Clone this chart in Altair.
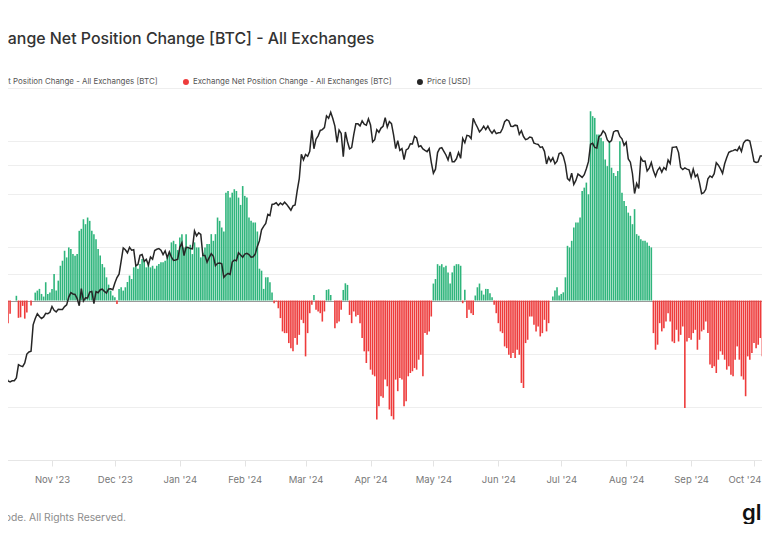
import altair as alt
import pandas as pd

START = "2023-10-07"

# Daily exchange net position change [BTC], Oct 7 2023 .. Oct 8 2024
net_change = [
    -19500, -14000, -12500, -14000, -8500, -5000, 0, 0, 1800, -6500,
    -6300, -2000, -6800, -4500, 0, -1900, 0, 3000, 3750, 4400,
    2500, 1500, 6900, 2500, 3000, 4400, 10000, 3750, 7500, 13100,
    15000, 18750, 16250, 20000, 19400, 17500, 16900, 17500, 26250, 27000,
    30600, 28750, 31250, 30000, 26250, 25000, 23100, 19400, 17000, 13750,
    12500, 8750, 6000, 3750, 1900, 1250, -1250, 4400, 5000, 3750,
    5000, 7000, 9400, 8100, 12500, 13100, 12000, 13750, 15600, 15000,
    12500, 13750, 12500, 13100, 12000, 13100, 13750, 14400, 14400, 15000,
    16250, 18100, 21900, 22500, 21250, 19000, 23750, 25000, 20000, 25000,
    20000, 21000, 17500, 21900, 20000, 20000, 16250, 18000, 20000, 21250,
    21250, 25000, 22500, 25000, 31250, 30000, 27500, 26000, 40600, 41250,
    38750, 40600, 41900, 41250, 38750, 36000, 43100, 39400, 38750, 31250,
    30000, 29400, 29400, 26000, 12000, 11250, 4400, 8750, 8750, 6900,
    3000, -1000, -300, -2900, -6600, -11600, -12250, -12250, -16000, -17900,
    -19100, -14100, -16600, -12900, -7250, -8500, -21000, -12250, -4750, -1600,
    2100, -3500, -4100, -4750, -7900, -4100, 4000, 4250, 2100, 0,
    -10400, -8500, -7900, -3500, 4000, 6500, 5900, -5400, -8500, -4100,
    -6000, -5400, -8500, -14100, -19100, -23500, -19100, -26000, -27900, -28500,
    -44750, -39750, -36000, -36600, -29750, -32250, -41000, -43500, -44750, -29750,
    -34100, -29100, -29750, -39750, -37900, -28500, -27250, -26600, -25400, -26000,
    -22250, -20400, -28500, -12250, -12900, -11600, -6000, 6400, 8100, 13700,
    13100, 13700, 12500, 13100, 10600, 6400, 10600, 13100, 13700, 13700,
    13100, -1000, 4100, -6600, -3500, -4750, -5400, 1900, 5000, 6400,
    3750, 2250, 4400, 4400, 2750, 1250, -1600, -4750, -8500, -11600,
    -12250, -17250, -17900, -20400, -21600, -19750, -21600, -18500, -20400, -31000,
    -32900, -16000, -14750, -6000, -6000, -9100, -11600, -9750, -13500, -12250,
    -7250, -11600, -8500, 0, 1500, 3750, 5000, 1900, 2500, 3100,
    8750, 20600, 20000, 22500, 27500, 29400, 29400, 31250, 41250, 42500,
    44400, 40000, 71250, 69400, 68750, 62500, 62500, 61250, 60000, 53100,
    50600, 60000, 50000, 48000, 46900, 48750, 60000, 40600, 37500, 35600,
    33100, 31900, 28750, 34400, 25000, 24400, 23100, 22500, 22500, 21900,
    20600, 20000, -12250, -18500, -16600, -8500, -11600, -10400, -7900, -4750,
    -7900, -15400, -16000, -11000, -15400, -12900, -9750, -40400, -15400, -14100,
    -14750, -12250, -11000, -18500, -14750, -11600, -11000, -7900, -12250, -24100,
    -25400, -24750, -27250, -22250, -19100, -20400, -22250, -26000, -24750, -27900,
    -28500, -22250, -17250, -22250, -28500, -29750, -36000, -21000, -22250, -19750,
    -16000, -17900, -16600, -14100, -21000, -22900, -25400, -32250,
]

# Daily BTC price [USD], same days
price = [
    27950, 27970, 27600, 27400, 26850, 26750, 26860, 26870, 27150, 28520,
    28400, 28330, 28720, 29680, 29920, 29990, 33090, 33900, 34500, 34150,
    33890, 34090, 34540, 34500, 34670,
    35440, 34940, 34730, 35080, 35050, 35040, 35420, 35650, 36700, 37310,
    37130, 37070, 36500, 35540, 37880, 36160, 36600, 36590, 37390, 37480,
    35810, 37450, 37300, 37720, 37800, 37480, 37250, 37830, 37860, 37720,
    38690, 39470, 39980, 41980, 44080, 43780, 43290, 44170, 43720, 43790,
    41240, 41450, 42890, 43020, 41930, 42240, 41360, 42620, 42270, 43650,
    43860, 43970, 43700, 43010, 43600, 42520, 43440, 42580, 42070, 42140, 42280,
    44180, 44940, 42850, 44180, 44160, 43970, 43930, 46970, 46110, 46630,
    46370, 42850, 42840, 41800, 42510, 43150, 42740, 41260, 41620, 41660,
    41550, 39510, 39850, 40080, 39930, 41820, 42120, 42030, 43300, 42940, 42580,
    43080, 43190, 43000, 42580, 42660, 43090, 44330, 45290, 47150, 47770,
    48290, 49960, 49740, 51830, 51930, 52160, 51660, 52120, 51780, 52280,
    51840, 51300, 50730, 51570, 51730, 54520, 57090, 62500, 61200,
    62440, 62030, 63170, 68330, 63800, 66110, 66930, 68300, 68500, 69020,
    72120, 71480, 73100, 71400, 69400, 65320, 68390, 67550, 61910, 67910,
    65490, 63780, 64060, 67250, 69990, 69990, 69460, 70780, 69900, 69650, 71330,
    69700, 65450, 65980, 68510, 67840, 68900, 69360, 71630, 69150, 70590,
    70060, 67200, 63820, 65740, 63420, 63810, 61280, 63510, 63840, 64990,
    64930, 66840, 66410, 64290, 64500, 63760, 63420, 63110, 63840, 60640,
    58250, 59120, 62890, 63890, 64030, 63160, 62330, 61190, 63050, 60790,
    60790, 61450, 62900, 61550, 66270, 65230, 67050, 66940, 66280, 71450,
    70140, 69120, 67930, 68520, 69390, 68500, 69390, 68300, 67600, 68360, 67490,
    67710, 67750, 68800, 70570, 71080, 70760, 69340, 69310, 69650, 69510,
    67320, 68240, 66760, 66010, 66190, 66640, 66490, 65150, 64960, 64830,
    64100, 64250, 63180, 60280, 61800, 60860, 61670, 60320, 60890, 62680,
    62850, 62030, 60200, 57060, 56660, 58230, 55850, 56700, 58050, 57720,
    57340, 57900, 59230, 60790, 64870, 65100, 64120, 63970, 66710, 67160,
    68190, 67550, 65930, 65370, 65780, 67910, 68250, 68250, 66780, 66190, 64620,
    65360, 61410, 60680, 58120, 53990, 56030, 55030, 61710, 60880, 60940,
    58710, 59350, 60610, 58740, 57560, 58870, 59480, 58480, 59490, 59010,
    61160, 60380, 64090, 64180, 64260, 62880, 59500, 59030, 59390, 59120, 58970,
    57330, 59130, 57490, 57970, 56160, 53950, 54140, 54840, 57020, 57650,
    57340, 58130, 60570, 60000, 59180, 58210, 60310, 61760, 62950, 63200,
    63350, 63580, 63340, 64260, 63140, 65180, 65790, 65890, 65640, 63330,
    60840, 60630, 60750, 62090, 62060, 62820, 62220, 62130,
]

month_ticks = [
    "2023-10-01", "2023-11-01", "2023-12-01", "2024-01-01", "2024-02-01",
    "2024-03-01", "2024-04-01", "2024-05-01", "2024-06-01", "2024-07-01",
    "2024-08-01", "2024-09-01", "2024-10-01",
]
bar_grid = [-60000, -40000, -20000, 0, 20000, 40000, 60000, 80000]
price_grid = [20000, 40000, 60000, 80000]

TITLE = "Exchange Net Position Change [BTC] - All Exchanges"
SERIES_LABEL = "Exchange Net Position Change - All Exchanges [BTC]"
PRICE_LABEL = "Price [USD]"
POS_KEY = "inflow"
NEG_KEY = "outflow"
FOOTER = "\u00a9 2024 Glassnode. All Rights Reserved."
LOGO = "glassnode"

GREEN = "#2fb57c"
RED = "#ee3b3b"
BLACK = "#262626"
FONT = "Inter"


def ms(s):
    return int(pd.Timestamp(s, tz="UTC").value // 10**6)


dates = pd.date_range(START, periods=len(net_change), freq="D")
df = pd.DataFrame({
    "date": dates.strftime("%Y-%m-%d"),
    "net": net_change,
    "price": price,
})
df["sign"] = [POS_KEY if v >= 0 else NEG_KEY for v in net_change]

# visible window of the (cropped) original chart
x_domain = [ms("2023-10-07 04:26"), ms("2024-10-04 19:38")]

xenc = alt.X(
    "date:T",
    title=None,
    scale=alt.Scale(type="utc", domain=x_domain, padding=0, nice=False),
    axis=alt.Axis(
        values=[ms(t) for t in month_ticks],
        labelExpr="utcFormat(datum.value, \"%b '%y\")",
        labelFlush=10,
        labelFlushOffset=7,
        labelOverlap=False,
        grid=False,
        domainColor="#e6e6e6",
        tickColor="#e3e3e3",
        tickSize=6,
        labelPadding=8,
        labelColor="#777777",
        labelFontSize=9.5,
        labelFont=FONT,
    ),
)

bars = alt.Chart(df).mark_bar(size=1.6).encode(
    x=xenc,
    y=alt.Y(
        "net:Q",
        title=None,
        scale=alt.Scale(domain=[-60000, 80000], nice=False),
        axis=alt.Axis(
            values=bar_grid, grid=True, labels=False, ticks=False, domain=False,
            gridColor={"condition": {"test": "datum.value === 0", "value": "#9a9a9a"},
                       "value": "#eeeeee"},
        ),
    ),
    color=alt.Color(
        "sign:N",
        scale=alt.Scale(domain=[POS_KEY, NEG_KEY, PRICE_LABEL], range=[GREEN, RED, BLACK]),
        legend=alt.Legend(
            title=None,
            orient="none",
            legendX=-52,
            legendY=-10,
            direction="horizontal",
            symbolType="circle",
            symbolSize=36,
            symbolStrokeWidth=0,
            symbolOpacity=1,
            labelFontSize=7.9,
            labelFont=FONT,
            labelColor="#555555",
            labelOffset=3,
            labelLimit=0,
            columnPadding=24,
            padding=0,
            labelExpr=f"datum.value == '{PRICE_LABEL}' ? '{PRICE_LABEL}' : '{SERIES_LABEL}'",
        ),
    ),
)

line = alt.Chart(df).mark_line(strokeWidth=1.5).encode(
    x=xenc,
    y=alt.Y(
        "price:Q",
        title=None,
        scale=alt.Scale(type="log", domain=[20000, 80000], nice=False),
        axis=alt.Axis(orient="right", values=price_grid, grid=True, gridColor="#eeeeee",
                      labels=False, ticks=False, domain=False),
    ),
    color=alt.datum(PRICE_LABEL),
)

footer = alt.Chart(pd.DataFrame({"t": [FOOTER]})).mark_text(
    align="right", baseline="middle", fontSize=10.3, font=FONT, color="#8c8c8c"
).encode(text="t:N", x=alt.value(126), y=alt.value(430))

logo = alt.Chart(pd.DataFrame({"t": [LOGO]})).mark_text(
    align="left", baseline="alphabetic", fontSize=22, fontWeight=600, font=FONT, color="#111111"
).encode(text="t:N", x=alt.value(742), y=alt.value(432))

chart = alt.layer(bars, line, footer, logo).resolve_scale(y="independent").properties(
    width=762,
    height=372,
    autosize=alt.AutoSizeParams(type="none"),
    padding={"left": -8, "top": 80, "right": 0, "bottom": 64},
    title=alt.TitleParams(
        TITLE, anchor="start", dx=-29, offset=23, baseline="middle",
        fontSize=15.9, fontWeight=500, color="#333333", font=FONT, frame="group",
    ),
).configure_view(strokeWidth=0).configure(font=FONT)

chart.save("out.html", embed_options={"renderer": "svg", "actions": False})
